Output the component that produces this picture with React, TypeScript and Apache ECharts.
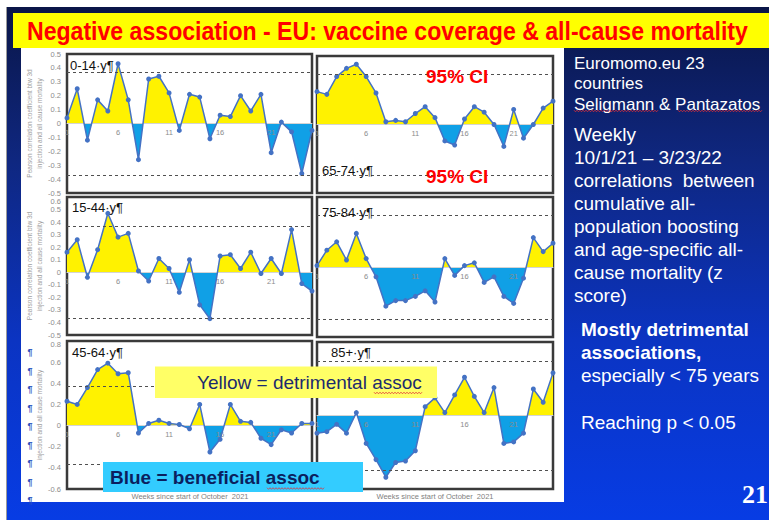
import React, { useEffect, useRef } from "react";
import * as echarts from "echarts";

// ---------- data ----------
const weeks = ["1", "2", "3", "4", "5", "6", "7", "8", "9", "10", "11", "12", "13", "14", "15", "16", "17", "18", "19", "20", "21", "22", "23", "24", "25"];
const weekTicks = ["1", "6", "11", "16", "21"];

const age0to14 = [0.04, 0.25, -0.12, 0.17, 0.09, 0.43, 0.17, -0.26, 0.32, 0.34, 0.22, -0.05, 0.21, 0.19, -0.11, 0.06, 0.05, 0.2, 0.09, 0.21, -0.21, 0.01, -0.06, -0.36, -0.05];
const age65to74 = [0.24, 0.22, 0.35, 0.41, 0.44, 0.35, 0.23, 0.02, 0.03, 0.02, 0.08, 0.13, 0.05, -0.12, -0.15, 0.04, 0.13, 0.09, 0.0, -0.16, 0.11, -0.1, 0.0, 0.12, 0.17];
const age15to44 = [0.16, 0.26, -0.04, 0.18, 0.47, 0.28, 0.31, 0.01, -0.07, 0.11, 0.03, -0.16, 0.1, -0.26, -0.37, 0.13, 0.14, 0.03, 0.16, -0.01, 0.11, -0.01, 0.34, -0.09, -0.15];
const age75to84 = [0.01, 0.12, 0.18, 0.05, 0.24, 0.06, -0.07, -0.28, -0.24, -0.24, -0.21, -0.17, -0.25, 0.06, -0.06, 0.01, 0.03, -0.11, -0.07, -0.21, -0.26, -0.08, 0.21, 0.11, 0.17];
const age45to64 = [0.23, 0.2, 0.36, 0.53, 0.59, 0.49, 0.5, -0.07, 0.02, 0.05, 0.02, 0.01, -0.03, 0.2, -0.25, -0.13, 0.2, 0.04, 0.03, -0.12, -0.18, -0.04, -0.07, 0.02, 0.02];
const age85plus = [-0.12, -0.11, -0.06, -0.12, 0.02, -0.19, -0.3, -0.42, -0.32, -0.31, -0.24, 0.06, 0.12, 0.02, 0.14, 0.26, 0.13, 0.02, 0.19, -0.19, -0.18, -0.12, 0.18, 0.09, 0.29];

const ageLabels = ["0-14·y¶", "65-74·y¶", "15-44·y¶", "75-84·y¶", "45-64·y¶", "85+·y¶"];
const ciLimit = 0.37;
const ciLabel = "95% CI";

const titleText = "Negative association - EU: vaccine coverage & all-cause mortality";
const yTitleLine1 = "Pearson correlation coefficient btw 3d";
const yTitleLine2 = "injection and all cause mortality";
const xTitle = "Weeks since start of October  2021";
const midLeftTopTick = "0.6";
const bottomLeftTopTick = "0.8";

const sourceLines = ["Euromomo.eu 23", "countries", "Seligmann & Pantazatos"];
const methodLines = ["Weekly", "10/1/21 – 3/23/22", "correlations  between", "cumulative all-", "population boosting", "and age-specific all-", "cause mortality (z", "score)"];
const boldLines = ["Mostly detrimental", "associations,"];
const noteLines = ["especially < 75 years"];
const pLine = "Reaching p < 0.05";
const yellowNote = "Yellow = detrimental assoc";
const blueNote = "Blue = beneficial assoc";
const slideNo = "21";

// ---------- layout / style ----------
const panelValues = [age0to14, age65to74, age15to44, age75to84, age45to64, age85plus];
const panelRanges = [
  [-0.5, 0.5, 0.1],
  [-0.5, 0.5, 0.1],
  [-0.5, 0.6, 0.1],
  [-0.5, 0.5, 0.1],
  [-0.6, 0.8, 0.2],
  [-0.5, 0.5, 0.1],
];
const panelBoxes = [
  { left: 67, top: 54, width: 245, height: 139 },
  { left: 317, top: 56, width: 236, height: 137 },
  { left: 67, top: 197, width: 245, height: 138 },
  { left: 317, top: 197, width: 236, height: 140 },
  { left: 67, top: 341, width: 245, height: 148 },
  { left: 317, top: 342, width: 236, height: 147 },
];
const showYLabels = [true, false, true, false, true, false];
const hideTopTick = [false, false, true, false, true, false];
const yNames = [yTitleLine1 + "\n" + yTitleLine2, "", yTitleLine1 + "\n" + yTitleLine2, "", yTitleLine2, ""];
const labelPos = [
  [70, 65],
  [322, 170],
  [72, 207],
  [322, 212],
  [72, 352],
  [331, 352],
];

const SANS = '"Liberation Sans", Arial, sans-serif';
const LINE = "#4472C4";
const YELLOW_FILL = "#FFF200";
const BLUE_FILL = "#10A0E6";
const TICK_GREY = "#8c8c8c";

function measure(text: string, font: string) {
  const ctx = document.createElement("canvas").getContext("2d");
  if (!ctx) return 0;
  ctx.font = font;
  return ctx.measureText(text).width;
}

function txt(text: string, x: number, y: number, size: number, color: string, extra: any = {}) {
  const align = extra.align || "left";
  const el: any = {
    type: "text",
    x,
    y,
    z: extra.z ?? 50,
    silent: true,
    style: {
      text,
      fill: color,
      fontSize: size,
      fontFamily: extra.family || SANS,
      fontWeight: extra.weight || "normal",
      textAlign: align,
      align,
      textVerticalAlign: "middle",
      verticalAlign: "middle",
    },
  };
  if (extra.scaleX) el.scaleX = extra.scaleX;
  return el;
}

function wavy(x0: number, x1: number, y: number, z = 60) {
  const pts: number[][] = [];
  let up = true;
  for (let x = x0; x <= x1; x += 1.5) {
    pts.push([x, up ? y - 0.8 : y + 0.8]);
    up = !up;
  }
  return { type: "polyline", z, silent: true, shape: { points: pts }, style: { stroke: "#e0303a", lineWidth: 0.8, fill: null } };
}

function buildOption() {
  const graphics: any[] = [];
  // slide background
  graphics.push({
    type: "rect",
    z: -20,
    silent: true,
    shape: { x: 7, y: 7, width: 762, height: 513 },
    style: {
      fill: new echarts.graphic.LinearGradient(0, 0, 0, 1, [
        { offset: 0, color: "#0a1648" },
        { offset: 0.3, color: "#0f2780" },
        { offset: 0.65, color: "#0b34c2" },
        { offset: 1, color: "#073ce4" },
      ]),
    },
  });
  graphics.push({ type: "line", z: -19, silent: true, shape: { x1: 6.5, y1: 7, x2: 6.5, y2: 520 }, style: { stroke: "#9a9a9a", lineWidth: 1 } });
  graphics.push({ type: "rect", z: -18, silent: true, shape: { x: 13, y: 13, width: 756, height: 35 }, style: { fill: "#FFFF00" } });
  const titleW = measure(titleText, 'bold 26px "Liberation Sans"') || 900;
  graphics.push(txt(titleText, 27, 31, 26, "#FF0000", { weight: "bold", scaleX: 721 / titleW }));
  graphics.push({ type: "rect", z: -18, silent: true, shape: { x: 21, y: 48, width: 543, height: 454 }, style: { fill: "#FFFFFF" } });

  // panel labels
  ageLabels.forEach((lab, i) => {
    graphics.push(txt(lab, labelPos[i][0], labelPos[i][1], 13, "#111111"));
  });
  graphics.push(txt(ciLabel, 426, 76, 19, "#FF0000", { weight: "bold" }));
  graphics.push(txt(ciLabel, 426, 176, 19, "#FF0000", { weight: "bold" }));
  graphics.push(txt(midLeftTopTick, 61, 201.5, 7.5, TICK_GREY, { align: "right" }));
  graphics.push(txt(bottomLeftTopTick, 61, 344.5, 7.5, TICK_GREY, { align: "right" }));

  graphics.push(txt(xTitle, 190, 496, 7.5, "#7f7f7f", { align: "center" }));
  graphics.push(txt(xTitle, 435, 496, 7.5, "#7f7f7f", { align: "center" }));

  // pilcrows
  for (let k = 0; k < 9; k++) {
    graphics.push(txt("¶", 30, 352 + k * 18.5, 9, "#2a52be", { weight: "bold", align: "center" }));
  }

  // note boxes
  graphics.push({ type: "rect", z: 100, silent: true, shape: { x: 155, y: 366.5, width: 282, height: 31.5 }, style: { fill: "#FFFF66" } });
  graphics.push(txt(yellowNote, 197, 382.5, 19, "#1c2a6e", { z: 101 }));
  graphics.push(wavy(374, 423, 393, 102));
  graphics.push({ type: "rect", z: 100, silent: true, shape: { x: 103, y: 462, width: 260, height: 30 }, style: { fill: "#33CCFF" } });
  graphics.push(txt(blueNote, 110, 477.5, 19, "#0b1f5e", { weight: "bold", z: 101 }));
  graphics.push(wavy(267, 324, 488.5, 102));

  // right side texts
  sourceLines.forEach((l, i) => graphics.push(txt(l, 574, 63 + i * 20.5, 17, "#FFFFFF")));
  graphics.push(wavy(574, 658, 111));
  graphics.push(wavy(678, 763, 111));
  methodLines.forEach((l, i) => graphics.push(txt(l, 574, 134 + i * 23, 19, "#FFFFFF")));
  boldLines.forEach((l, i) => graphics.push(txt(l, 581, 329 + i * 23, 19, "#FFFFFF", { weight: "bold" })));
  noteLines.forEach((l, i) => graphics.push(txt(l, 581, 375 + i * 23, 19, "#FFFFFF")));
  graphics.push(txt(pLine, 581, 422, 19, "#FFFFFF"));
  graphics.push(txt(slideNo, 768, 494, 26, "#FFFFFF", { weight: "bold", family: '"Liberation Serif", "Times New Roman", serif', align: "right" }));

  const areaIdx: number[] = [];
  const series: any[] = [];
  panelValues.forEach((vals, i) => {
    areaIdx.push(series.length);
    series.push({
      type: "line",
      xAxisIndex: i,
      yAxisIndex: i,
      data: vals,
      symbol: "none",
      showSymbol: false,
      silent: true,
      lineStyle: { width: 0, opacity: 0 },
      areaStyle: { opacity: 1 },
      z: 2,
    });
    series.push({
      type: "line",
      xAxisIndex: i,
      yAxisIndex: i,
      data: vals,
      symbol: "circle",
      symbolSize: 5,
      itemStyle: { color: LINE },
      lineStyle: { color: LINE, width: 1.5 },
      z: 4,
      markLine: {
        silent: true,
        symbol: ["none", "none"],
        label: { show: false },
        lineStyle: { color: "#505050", type: [3, 3], width: 1 },
        data: [{ yAxis: ciLimit }, { yAxis: -ciLimit }],
      },
    });
  });

  return {
    animation: false,
    grid: panelBoxes.map((b) => ({
      ...b,
      show: true,
      borderColor: "#3a3a3a",
      borderWidth: 2.5,
      backgroundColor: "rgba(0,0,0,0)",
    })),
    xAxis: panelBoxes.map((b, i) => {
      const [min, max] = panelRanges[i];
      return {
        type: "category",
        gridIndex: i,
        z: 3,
        position: "bottom",
        offset: -(b.height * (0 - min)) / (max - min),
        data: weeks,
        boundaryGap: false,
        axisLine: { onZero: false, lineStyle: { color: "#d4d4d4", width: 1 } },
        axisTick: { show: false },
        axisLabel: {
          interval: 0,
          showMinLabel: true,
          showMaxLabel: true,
          hideOverlap: false,
          formatter: (v: string) => (weekTicks.indexOf(v) >= 0 ? v : ""),
          fontSize: 7.5,
          color: TICK_GREY,
          margin: 5,
          fontFamily: SANS,
        },
        splitLine: { show: false },
      };
    }),
    yAxis: panelRanges.map(([min, max, interval], i) => ({
      type: "value",
      gridIndex: i,
      min,
      max,
      interval,
      axisLine: { show: false },
      axisTick: { show: false },
      splitLine: { show: false },
      axisLabel: {
        show: showYLabels[i],
        showMaxLabel: !hideTopTick[i],
        showMinLabel: true,
        fontSize: 7.5,
        color: TICK_GREY,
        margin: 6,
        fontFamily: SANS,
        formatter: (v: number) => String(Math.round(v * 10) / 10),
      },
      name: yNames[i],
      nameLocation: "middle",
      nameGap: 20,
      nameRotate: 90,
      nameTextStyle: { fontSize: 6.5, color: "#a0a0a0", lineHeight: 9.5, fontFamily: SANS },
    })),
    visualMap: [
      {
        type: "piecewise",
        show: false,
        dimension: 1,
        seriesIndex: areaIdx,
        pieces: [
          { min: -1, max: 0, color: BLUE_FILL },
          { min: 0, max: 1, color: YELLOW_FILL },
        ],
        outOfRange: { color: BLUE_FILL },
      },
    ],
    series,
    graphic: { elements: graphics },
  };
}

export default function App() {
  const ref = useRef<HTMLDivElement>(null);
  useEffect(() => {
    if (!ref.current) return;
    const chart = echarts.init(ref.current, undefined, { renderer: "svg" });
    chart.setOption(buildOption() as any);
    return () => chart.dispose();
  }, []);
  return <div ref={ref} style={{ position: "absolute", left: 0, top: 0, width: 769, height: 520, background: "#ffffff" }} />;
}
